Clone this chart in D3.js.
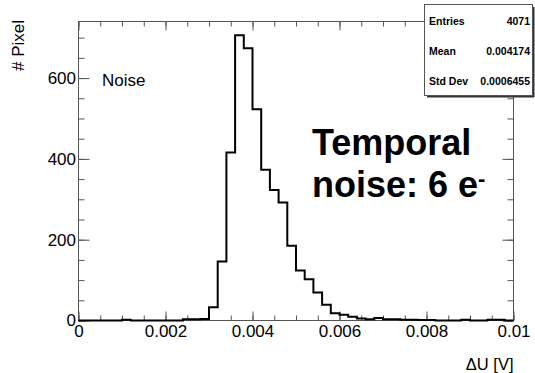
<!DOCTYPE html>
<html>
<head>
<meta charset="utf-8">
<script src="https://cdn.jsdelivr.net/npm/d3@7"></script>
<style>
body { margin: 0; background: #fff; }
svg { display: block; font-family: "Liberation Sans", Arial, Helvetica, sans-serif; }
</style>
</head>
<body>
<svg id="chart" width="535" height="373"></svg>
<script>
// histogram: 50 bins from 0 to 0.01 V
var binMin = 0, binMax = 0.01;
var counts = [0, 0, 0, 0, 0, 2, 0, 0, 0, 0,
              0, 0, 3, 3, 4, 33, 146, 416, 706, 674,
              523, 373, 323, 292, 185, 124, 102, 69, 39, 18,
              14, 9, 5, 3, 6, 3, 3, 2, 2, 1,
              1, 0, 0, 0, 2, 0, 0, 2, 2, 0];
var xTickValues = [0, 0.002, 0.004, 0.006, 0.008, 0.01];
var xTickLabels = ["0", "0.002", "0.004", "0.006", "0.008", "0.01"];
var xMinorValues = d3.range(0, 21).map(function(i){ return i * 0.0005; });
var yTickValues = [0, 200, 400, 600];
var yTickLabels = ["0", "200", "400", "600"];
var yMinorValues = d3.range(0, 15).map(function(i){ return i * 50; });
var statNames = ["Entries", "Mean", "Std Dev"];
var statValues = ["4071", "0.004174", "0.0006455"];

var svg = d3.select("#chart");
var padL = 78.5, padR = 513.5, padT = 21.5, padB = 320.5;
var axisColor = "#555";

var xScale = d3.scaleLinear().domain([binMin, binMax]).range([padL, padR]);
var yScale = d3.scaleLinear().domain([0, 740]).range([padB, padT]);

// ticks (pointing inward on all four sides)
function styleAxis(g){
	g.select(".domain").remove();
	g.selectAll(".tick line").attr("stroke", axisColor);
	g.selectAll(".tick text").attr("fill", "#000").style("font-size", "17px");
}
svg.append("g").attr("transform", "translate(0," + padB + ")")
	.call(d3.axisBottom(xScale).tickValues(xMinorValues).tickSize(-5).tickSizeOuter(0).tickFormat(""))
	.call(styleAxis);
svg.append("g").attr("transform", "translate(0," + padB + ")")
	.call(d3.axisBottom(xScale).tickValues(xTickValues).tickSize(-9).tickSizeOuter(0).tickPadding(4.5)
		.tickFormat(function(d, i){ return xTickLabels[i]; }))
	.call(styleAxis);
svg.append("g").attr("transform", "translate(0," + padT + ")")
	.call(d3.axisTop(xScale).tickValues(xMinorValues).tickSize(-5).tickSizeOuter(0).tickFormat(""))
	.call(styleAxis);
svg.append("g").attr("transform", "translate(0," + padT + ")")
	.call(d3.axisTop(xScale).tickValues(xTickValues).tickSize(-9).tickSizeOuter(0).tickFormat(""))
	.call(styleAxis);
svg.append("g").attr("transform", "translate(" + padL + ",0)")
	.call(d3.axisLeft(yScale).tickValues(yMinorValues).tickSize(-6).tickSizeOuter(0).tickFormat(""))
	.call(styleAxis);
svg.append("g").attr("transform", "translate(" + padL + ",0)")
	.call(d3.axisLeft(yScale).tickValues(yTickValues).tickSize(-11).tickSizeOuter(0).tickPadding(2.5)
		.tickFormat(function(d, i){ return yTickLabels[i]; }))
	.call(styleAxis);
svg.append("g").attr("transform", "translate(" + padR + ",0)")
	.call(d3.axisRight(yScale).tickValues(yMinorValues).tickSize(-6).tickSizeOuter(0).tickFormat(""))
	.call(styleAxis);
svg.append("g").attr("transform", "translate(" + padR + ",0)")
	.call(d3.axisRight(yScale).tickValues(yTickValues).tickSize(-11).tickSizeOuter(0).tickFormat(""))
	.call(styleAxis);

// frame
svg.append("rect")
	.attr("x", padL).attr("y", padT)
	.attr("width", padR - padL).attr("height", padB - padT)
	.attr("fill", "none").attr("stroke", axisColor).attr("stroke-width", 1);

// histogram outline
var binWidth = (binMax - binMin) / counts.length;
var steps = counts.map(function(c, i){ return [binMin + i * binWidth, c]; });
steps.push([binMax, counts[counts.length - 1]]);
var line = d3.line()
	.x(function(d){ return xScale(d[0]); })
	.y(function(d){ return yScale(d[1]); })
	.curve(d3.curveStepAfter);
svg.append("path")
	.attr("d", line(steps))
	.attr("fill", "none")
	.attr("stroke", "#000")
	.attr("stroke-width", 2);

// axis titles
svg.append("text")
	.attr("transform", "translate(24,20) rotate(-90)")
	.attr("text-anchor", "end")
	.style("font-size", "17px")
	.text("# Pixel");
svg.append("text")
	.attr("x", padR).attr("y", 370)
	.attr("text-anchor", "end")
	.style("font-size", "16.5px")
	.text("\u0394U [V]");

// annotations
svg.append("text").attr("x", 102).attr("y", 86).style("font-size", "17px").text("Noise");
svg.append("text").attr("x", 312).attr("y", 155)
	.style("font-size", "36px").style("font-weight", "bold").text("Temporal");
var t2 = svg.append("text").attr("x", 312).attr("y", 197)
	.style("font-size", "36px").style("font-weight", "bold");
t2.append("tspan").text("noise: 6 e");
t2.append("tspan").attr("dy", -11).style("font-size", "22px").text("-");

// stats box
var box = svg.append("g");
box.append("line").attr("x1", 427).attr("x2", 534).attr("y1", 96.5).attr("y2", 96.5)
	.attr("stroke", "#333").attr("stroke-width", 2);
box.append("line").attr("x1", 533.5).attr("x2", 533.5).attr("y1", 7).attr("y2", 97)
	.attr("stroke", "#333").attr("stroke-width", 2);
box.append("rect").attr("x", 424.5).attr("y", 4.5).attr("width", 108).attr("height", 91)
	.attr("fill", "#fff").attr("stroke", axisColor);
statNames.forEach(function(n, i){
	box.append("text").attr("x", 429).attr("y", 25 + i * 30)
		.style("font-size", "10.5px").style("font-weight", "bold").text(n);
	box.append("text").attr("x", 530).attr("y", 25 + i * 30)
		.attr("text-anchor", "end")
		.style("font-size", "10.5px").style("font-weight", "bold").text(statValues[i]);
});
</script>
</body>
</html>
